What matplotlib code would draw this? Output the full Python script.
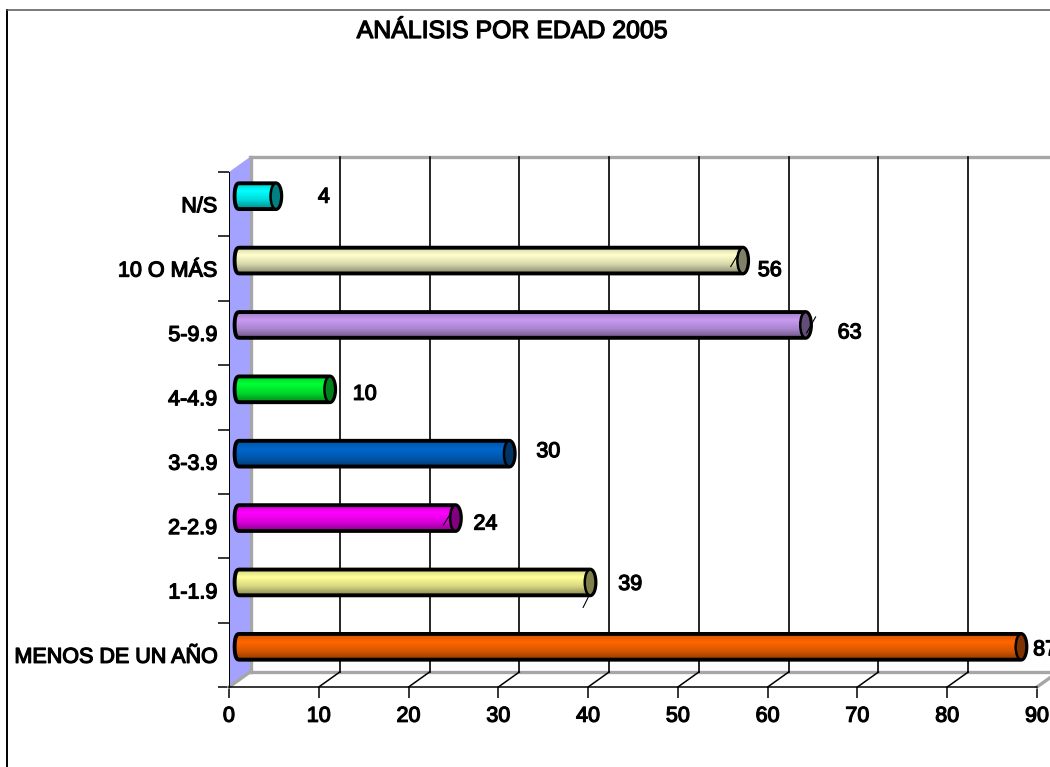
# -*- coding: utf-8 -*-
# Grafica de barras cilindricas: analisis por edad 2005
import numpy as np
import matplotlib
matplotlib.use('Agg')
import matplotlib.pyplot as plt
import matplotlib.patheffects as pe
from matplotlib.colors import LinearSegmentedColormap, to_rgb
from matplotlib.lines import Line2D
from matplotlib.patches import Ellipse, Polygon
from matplotlib.transforms import Affine2D

# -- DATOS --
categorias = ['MENOS DE UN AÑO', '1-1.9', '2-2.9', '3-3.9', '4-4.9', '5-9.9', '10 O MÁS', 'N/S']
valores = [87, 39, 24, 30, 10, 63, 56, 4]
colores = ['#FF6600', '#FFFF99', '#FF00FF', '#0066CC', '#00FF33', '#C79BF2', '#FFFFCC', '#00FFFF']
ticks_x = [0, 10, 20, 30, 40, 50, 60, 70, 80, 90]

# desplazamiento de cada etiqueta respecto al final de la barra (pixeles)
offset_etiquetas = [(24, -3), (40, -2), (30, -6), (39, 2), (35, -5), (44, -8), (27, -10), (48, -1)]
# rayitas sueltas junto al final de algunas barras (indice, x0, y0, x1, y1 en pixeles)
rayitas = [(5, 1, -8, 10, 8), (6, -12, -6, -2, 11), (1, -7, -25, -1, -13), (2, -12, -7, -4, 6)]

W, H = 1050, 767
PROF_X, PROF_Y = 21, 15    # profundidad del plano del fondo
MED_X, MED_Y = 11, 8       # plano donde van las barras
ALTO = 0.4
RX = 0.6


def estilo_texto():
    return [pe.withStroke(linewidth=0.9, foreground='black')]


def cilindro(ax, trans, y, v, color):
    base = np.array(to_rgb(color))
    cmap = LinearSegmentedColormap.from_list(
        'c', [(0, base * 0.82), (0.3, base), (0.65, base * 0.85), (1, base * 0.55)])
    grad = np.linspace(0, 1, 64).reshape(-1, 1)

    t = np.linspace(-np.pi / 2, np.pi / 2, 40)
    izq = np.column_stack([-RX * np.cos(t) ** 0.6, y + ALTO / 2 * np.sin(t)])
    der = np.column_stack([v + RX * np.cos(t), y + ALTO / 2 * np.sin(t)])
    puntos = np.vstack([der, izq[::-1]])

    cuerpo = Polygon(puntos, closed=True, facecolor='none', edgecolor='black',
                     linewidth=2.8, transform=trans, zorder=5, clip_on=False)
    ax.add_patch(cuerpo)
    im = ax.imshow(grad, extent=(-RX - 0.2, v + RX + 0.2, y - ALTO / 2, y + ALTO / 2),
                   cmap=cmap, aspect='auto', transform=trans, zorder=4, interpolation='bilinear')
    fondo = Polygon(puntos, closed=True, transform=trans)
    im.set_clip_path(fondo)

    tapa = Ellipse((v, y), 2 * RX, ALTO, facecolor=base * 0.5, edgecolor='black',
                   linewidth=1.8, transform=trans, zorder=6, clip_on=False)
    ax.add_patch(tapa)


fig = plt.figure(figsize=(W / 100, H / 100), dpi=100)
# el area de ejes es el plano frontal del grafico
ax = fig.add_axes([229 / W, 1 - 687 / H, (1037 - 229) / W, (687 - 172) / H])
pos = np.arange(len(categorias))
ax.set_xlim(0, 90)
ax.set_ylim(-0.5, len(categorias) - 0.5)
fondo_t = ax.transData + Affine2D().translate(PROF_X, PROF_Y)
medio_t = ax.transData + Affine2D().translate(MED_X, MED_Y)

# pared izquierda, piso y grilla
GRIS = '#A6A6A6'
pared = Polygon([(229, H - 172), (250, H - 157), (250, H - 672), (229, H - 687)],
                closed=True, facecolor='#A3A3FF', edgecolor='none',
                transform=None, zorder=1, clip_on=False)
ax.add_patch(pared)
ax.plot([0, 90], [7.5, 7.5], color=GRIS, lw=2.4, transform=fondo_t, clip_on=False, zorder=2)
ax.plot([0, 90], [-0.5, -0.5], color=GRIS, lw=2.4, transform=fondo_t, clip_on=False, zorder=2)
ax.plot([0.15, 0.15], [-0.5, 7.5], color=GRIS, lw=2.4, transform=fondo_t, clip_on=False, zorder=2)
ax.plot([229, 250], [H - 687, H - 672], color=GRIS, lw=2.4, transform=None, clip_on=False, zorder=2)
ax.plot([1037, 1058], [H - 687, H - 672], color=GRIS, lw=2.4, transform=None, clip_on=False, zorder=2)
for t in ticks_x[1:-1]:
    ax.plot([t, t], [-0.5, 7.5], color='black', lw=1.2, transform=fondo_t, clip_on=False, zorder=3)
    x0 = ax.transData.transform((t, -0.5))
    ax.plot([x0[0], x0[0] + PROF_X], [x0[1], x0[1] + PROF_Y], color='black', lw=1.1,
            transform=None, clip_on=False, zorder=3)

# barras
for i, v in enumerate(valores):
    cilindro(ax, medio_t, pos[i], v, colores[i])

for fila, x0, y0, x1, y1 in rayitas:
    v = valores[fila]
    ax.plot([v + x0 / 8.98, v + x1 / 8.98], [pos[fila] + y0 / 64.4, pos[fila] + y1 / 64.4],
            color='black', lw=0.8, transform=medio_t, zorder=7, clip_on=False)

# etiquetas de valor
for i, v in enumerate(valores):
    xy = medio_t.transform((v, pos[i]))
    dx, dy = offset_etiquetas[i]
    ax.annotate(str(v), xy=(xy[0] + dx, xy[1] + dy), xycoords='figure pixels',
                ha='center', va='center', family='Liberation Sans', fontsize=15.5,
                color='black', path_effects=estilo_texto(), annotation_clip=False, zorder=8)

# ejes
ax.set_xticks(ticks_x)
ax.set_xticklabels([str(t) for t in ticks_x], family='Liberation Sans', fontsize=15.5,
                   path_effects=estilo_texto())
ax.set_yticks(np.arange(len(categorias) + 1) - 0.5)
ax.set_yticklabels([])
ax.set_yticks(pos, minor=True)
ax.set_yticklabels(categorias, minor=True, family='Liberation Sans', fontsize=15.5,
                   path_effects=estilo_texto())
ax.tick_params(axis='x', which='major', length=8, width=1.1, pad=5.5)
ax.tick_params(axis='y', which='major', length=8, width=1.1)
ax.tick_params(axis='y', which='minor', length=0, pad=8.5)
for lado in ['top', 'right']:
    ax.spines[lado].set_visible(False)
ax.spines['left'].set_linewidth(0.7)
ax.spines['bottom'].set_linewidth(1.1)
ax.patch.set_visible(False)
ax.set_xlim(0, 90)
ax.set_ylim(-0.5, len(categorias) - 0.5)

# titulo y marco
fig.text(512 / W, 1 - 31 / H, 'ANÁLISIS POR EDAD 2005', ha='center', va='center',
         family='Liberation Sans', fontsize=17.9, path_effects=estilo_texto())
fig.add_artist(Line2D([7 / W, 7 / W], [0, 1 - 10 / H], color='black', lw=1.4))
fig.add_artist(Line2D([7 / W, 1], [1 - 10 / H, 1 - 10 / H], color='#555555', lw=1.1))

fig.savefig('out.png', dpi=100)
